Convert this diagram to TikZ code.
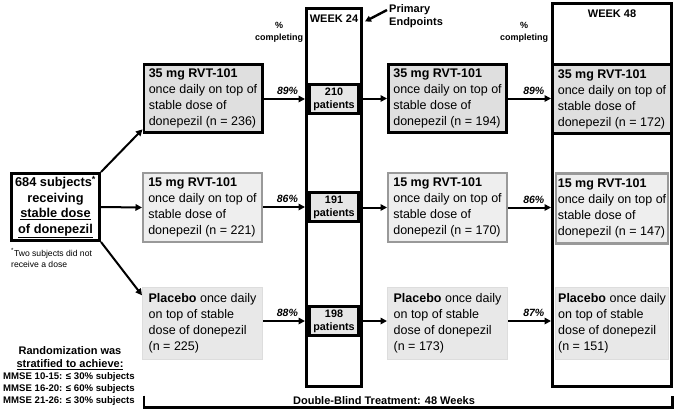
\documentclass[tikz,border=0pt]{standalone}
\usepackage{fontspec}
\setmainfont{Liberation Sans}
\usetikzlibrary{arrows.meta}
\definecolor{boxA}{HTML}{DFDFDF}
\definecolor{boxB}{HTML}{EEEEEE}
\definecolor{lineB}{HTML}{999999}
\definecolor{boxC}{HTML}{E8E8E8}
\definecolor{lineC}{HTML}{DDDDDD}
\definecolor{boxP}{HTML}{E6E6E6}
\newcommand\bxfont{\fontsize{12.5}{16}\selectfont}
\begin{document}
\begin{tikzpicture}[x=1pt,y=-1pt,
  thickbox/.style={draw=black, line width=2.8pt, fill=boxA, minimum width=118.2pt, minimum height=68.2pt, align=left, font=\bxfont, inner sep=2pt},
  graybox/.style={draw=lineB, line width=2.4pt, fill=boxB, minimum width=118.6pt, minimum height=68.6pt, align=left, font=\bxfont, inner sep=2pt},
  lightbox/.style={draw=lineC, line width=1pt, fill=boxC, minimum width=120pt, minimum height=72pt, align=left, font=\bxfont, inner sep=2pt},
  colbox/.style={draw=black, line width=2.8pt, inner sep=0pt},
  pbox/.style={draw=black, line width=2.8pt, fill=boxP, minimum width=49.2pt, minimum height=29.2pt, align=center, inner sep=1pt, font=\bfseries\fontsize{10.8}{13}\selectfont},
  conn/.style={line width=2pt, -{Triangle[length=6.5pt,width=6.5pt]}},
  pct/.style={font=\bfseries\itshape\fontsize{10.5}{12}\selectfont, inner sep=1pt},
  hdr/.style={font=\bfseries\fontsize{11}{13}\selectfont, inner sep=0pt},
  smalltext/.style={font=\bfseries\fontsize{9}{12}\selectfont, align=center, inner sep=0pt}
]
\useasboundingbox (0,0) rectangle (676,410);

% columns
\node[colbox, minimum width=55.2pt, minimum height=378.2pt] (w24) at (334,197.5) {};
\node[colbox, minimum width=119.2pt, minimum height=383.2pt] (w48) at (612,195) {};
\node[hdr] (w24h) at (334,19) {WEEK 24};
\node[hdr] (w48h) at (612,14) {WEEK 48};

% source
\node[draw=black, line width=3pt, minimum width=88pt, minimum height=67pt, align=center, inner sep=0pt,
  font=\bfseries\fontsize{12.8}{15.5}\selectfont] (src) at (55.5,207)
  {684 subjects\textsuperscript{*}\\receiving\\\underline{stable dose}\\\underline{of donepezil}};
\node[anchor=north west, align=left, inner sep=0pt, font=\fontsize{8.6}{11}\selectfont] (fn) at (11,248)
  {\textsuperscript{*}Two subjects did not\\receive a dose};

% first column boxes
\node[thickbox] (a1) at (203,98.5) {\textbf{35 mg RVT-101}\\once daily on top of\\stable dose of\\donepezil (n = 236)};
\node[graybox] (b1) at (202.5,207.5) {\textbf{15 mg RVT-101}\\once daily on top of\\stable dose of\\donepezil (n = 221)};
\node[lightbox] (c1) at (202.5,323.5) {\textbf{Placebo} once daily\\on top of stable\\dose of donepezil\\(n = 225)};

% patients
\node[pbox] (p1) at (334,99) {210\\patients};
\node[pbox] (p2) at (334,207) {191\\patients};
\node[pbox] (p3) at (334,321) {198\\patients};

% second column boxes
\node[thickbox] (a2) at (447.5,98.5) {\textbf{35 mg RVT-101}\\once daily on top of\\stable dose of\\donepezil (n = 194)};
\node[graybox] (b2) at (447.5,207.5) {\textbf{15 mg RVT-101}\\once daily on top of\\stable dose of\\donepezil (n = 170)};
\node[lightbox] (c2) at (447.5,323.5) {\textbf{Placebo} once daily\\on top of stable\\dose of donepezil\\(n = 173)};

% third column boxes
\node[thickbox, minimum width=119.2pt, minimum height=69pt] (a3) at (612,99) {\textbf{35 mg RVT-101}\\once daily on top of\\stable dose of\\donepezil (n = 172)};
\node[graybox, minimum width=112pt, minimum height=70pt] (b3) at (612,208.5) {\textbf{15 mg RVT-101}\\once daily on top of\\stable dose of\\donepezil (n = 147)};
\node[lightbox, minimum width=113pt, minimum height=72pt] (c3) at (612,323.5) {\textbf{Placebo} once daily\\on top of stable\\dose of donepezil\\(n = 151)};

% headers
\node[smalltext] (pc1) at (279,32) {\%\\completing};
\node[smalltext] (pc2) at (524,32) {\%\\completing};
\node[anchor=north west, align=left, inner sep=0pt, font=\bfseries\fontsize{11}{13}\selectfont] (pe) at (389,4) {Primary\\Endpoints};
\coordinate (pes) at (387,10);
\coordinate (pet) at (365,21.5);
\draw[line width=2.4pt, -{Triangle[length=6pt,width=6pt]}] (pes) -- (pet);

% connectors from source
\draw[conn] (src.north east) -- (a1.207);
\draw[conn] (src.east) -- (b1.west);
\draw[conn] (src.south east) -- (c1.155);

% to week 24
\draw[conn] (a1.east |- p1) -- node[pct, above=2pt, pos=0.58] {89\%} (p1 -| w24.west);
\draw[conn] (b1.east |- p2) -- node[pct, above=2pt, pos=0.58] {86\%} (p2 -| w24.west);
\draw[conn] (c1.east |- p3) -- node[pct, above=2pt, pos=0.58] {88\%} (p3 -| w24.west);

% week 24 to second column
\draw[conn] (w24.east |- a2.west) -- (a2.west);
\draw[conn] (w24.east |- b2.west) -- (b2.west);
\draw[conn] (w24.east |- p3) -- (c2.west |- p3);

% second column to week 48
\draw[conn] (a2.east) -- node[pct, above=2pt, pos=0.6] {89\%} (a2.east -| w48.west);
\draw[conn] (b2.east) -- node[pct, above=2pt, pos=0.6] {86\%} (b2.east -| w48.west);
\draw[conn] (c2.east |- p3) -- node[pct, above=2pt, pos=0.6] {87\%} (p3 -| w48.west);

% randomization
\node[align=center, inner sep=0pt, font=\bfseries\fontsize{11}{13}\selectfont] (rand1) at (70,358.5)
  {Randomization was\\\underline{stratified to achieve:}};
\node[align=center, inner sep=0pt, font=\bfseries\fontsize{9.6}{12}\selectfont] (rand2) at (69,389.5)
  {MMSE 10-15: ≤ 30\% subjects\\MMSE 16-20: ≤ 60\% subjects\\MMSE 21-26: ≤ 30\% subjects};

% bracket
\node[hdr] (dbt) at (384,400.5) {Double-Blind Treatment: 48 Weeks};
\coordinate (bl) at (144,395.5);
\coordinate (br) at (672.5,395.5);
\draw[line width=2.5pt] (bl) -- ++(0,12) -| (br);
\end{tikzpicture}
\end{document}
